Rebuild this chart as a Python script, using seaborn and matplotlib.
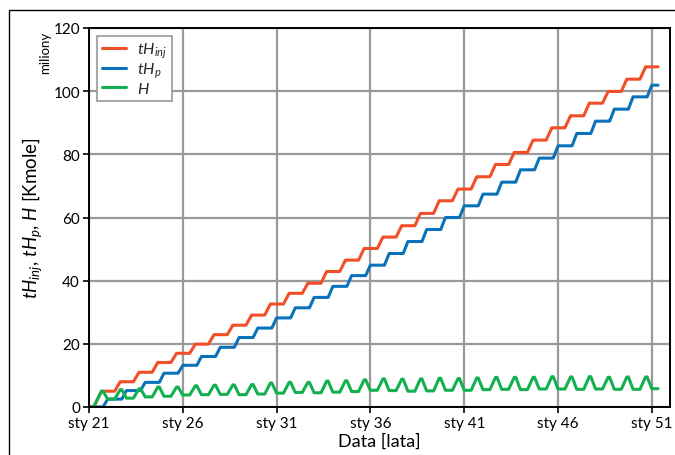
import numpy as np
import pandas as pd
import matplotlib
matplotlib.use("Agg")
import matplotlib.pyplot as plt
from matplotlib.patches import Rectangle
import seaborn as sns

# Cumulative totals at the end of each season (millions of kmole)
years = list(range(2021, 2051))
inj_levels = [5.0, 8.0, 11.0, 14.1, 17.0, 19.9, 22.9, 25.9, 29.1, 32.6,
              36.0, 39.2, 42.9, 46.5, 50.2, 53.8, 57.4, 61.3, 65.3, 69.0,
              72.9, 76.8, 80.6, 84.5, 88.4, 92.2, 96.2, 99.9, 103.8, 107.7]
prod_levels = [2.5, 5.2, 7.8, 10.7, 13.2, 16.0, 18.9, 22.0, 25.0, 28.2,
               31.4, 34.7, 38.2, 41.6, 44.9, 48.6, 52.4, 56.2, 60.0, 63.7,
               67.4, 71.2, 75.1, 78.8, 82.7, 86.6, 90.5, 94.3, 98.2, 101.9]

series_names = [r"$tH_{inj}$", r"$tH_p$", r"$H$"]
series_colors = ["#F24E27", "#0A72BA", "#12B04F"]

tick_dates = ["2021-01-01", "2026-01-01", "2031-01-01", "2036-01-01",
              "2041-01-01", "2046-01-01", "2051-01-01"]
tick_labels = ["sty 21", "sty 26", "sty 31", "sty 36", "sty 41", "sty 46", "sty 51"]
y_ticks = [0, 20, 40, 60, 80, 100, 120]

# Seasonal calendar: injection in late spring/summer, production in autumn
start_date = pd.Timestamp("2021-01-01")
end_date = pd.Timestamp("2051-05-01")

rows = [(start_date, 0.0, 0.0)]
prev_i, prev_p = 0.0, 0.0
for y, li, lp in zip(years, inj_levels, prod_levels):
    inj_start = pd.Timestamp(y, 4, 1) if y == years[0] else pd.Timestamp(y, 5, 15)
    rows.append((inj_start, prev_i, prev_p))
    rows.append((pd.Timestamp(y, 9, 1), li, prev_p))
    rows.append((pd.Timestamp(y, 10, 1), li, prev_p))
    rows.append((pd.Timestamp(y, 12, 31), li, lp))
    prev_i, prev_p = li, lp
rows.append((end_date, prev_i, prev_p))

wide = pd.DataFrame(rows, columns=["date", series_names[0], series_names[1]])
# storage inventory = injected - produced
wide[series_names[2]] = wide[series_names[0]] - wide[series_names[1]]
long = wide.melt(id_vars="date", var_name="series", value_name="value")

sns.set_theme(style="white")
plt.rcParams["font.family"] = ["Lato", "DejaVu Sans"]
plt.rcParams["mathtext.fontset"] = "custom"
plt.rcParams["mathtext.it"] = "Lato:italic"
plt.rcParams["mathtext.rm"] = "Lato"

fig = plt.figure(figsize=(6.75, 4.56), dpi=100)
fig.patch.set_facecolor("white")
ax = fig.add_axes([89 / 675, 48 / 456, 581 / 675, 379 / 456])

sns.lineplot(data=long, x="date", y="value", hue="series",
             hue_order=series_names, palette=series_colors,
             estimator=None, sort=False, linewidth=2.2, ax=ax)

ax.set_xlim(pd.Timestamp("2021-01-01"), pd.Timestamp("2051-12-20"))
ax.set_ylim(0, 120)
ax.set_xticks(pd.to_datetime(tick_dates))
ax.set_xticklabels(tick_labels)
ax.set_yticks(y_ticks)
ax.tick_params(axis="both", direction="out", length=4, width=1.2,
               color="black", labelsize=11, labelcolor="black",
               bottom=True, left=True, pad=2.5)

ax.grid(True, color="#9a9a9a", linewidth=1.6)
ax.set_axisbelow(True)
for sp in ax.spines.values():
    sp.set_visible(True)
    sp.set_color("black")
    sp.set_linewidth(1.4)

ax.set_xlabel("Data [lata]", fontsize=13, color="black", labelpad=2)
ax.set_ylabel(r"$tH_{inj}$, $tH_p$, $H$ [Kmole]", fontsize=13.5, color="black", labelpad=7)

fig.text(45 / 675, 1 - 53 / 456, "miliony", rotation=90, fontsize=9.5,
         ha="center", va="center", color="black")

leg = ax.legend(loc="upper left", fontsize=11.5, frameon=True, fancybox=False,
                framealpha=1, edgecolor="#999999", handlelength=1.5,
                borderaxespad=0.5, labelspacing=0.05, borderpad=0.3,
                handletextpad=0.7)
leg.get_frame().set_linewidth(1.2)
leg.set_title(None)

# outer frame of the figure panel
fig.patches.append(Rectangle((8.5 / 675, -0.1), 2.0, 1.1 - 11 / 456,
                             transform=fig.transFigure, fill=False,
                             edgecolor="black", linewidth=1.0, zorder=0))

fig.savefig("out.png", dpi=100)
